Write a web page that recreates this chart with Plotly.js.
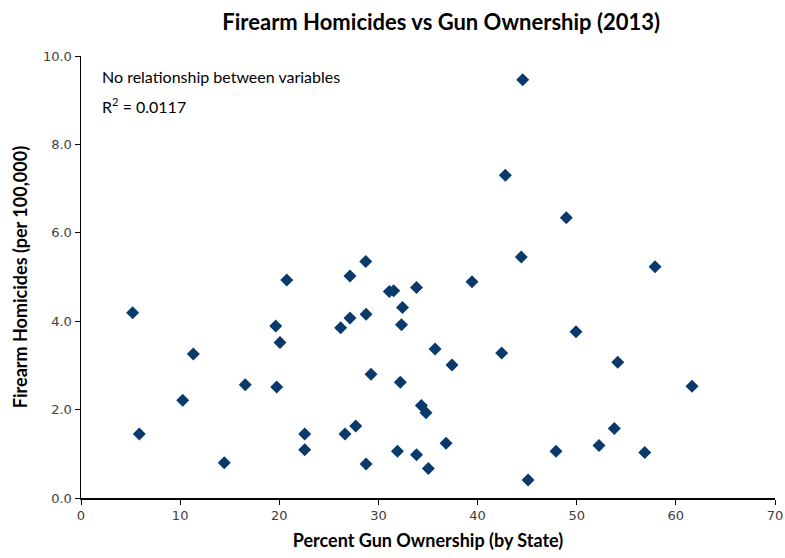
<!DOCTYPE html>
<html>
<head>
<meta charset="utf-8">
<script src="https://cdn.plot.ly/plotly-3.0.1.min.js"></script>
<style>html,body{margin:0;padding:0;background:#fff;}#chart{width:785px;height:558px;}</style>
</head>
<body>
<div id="chart"></div>
<script>
const gunOwnership = [5.21, 5.88, 10.26, 11.33, 14.45, 16.57, 19.64, 20.07, 19.74, 20.75,
  22.56, 22.56, 26.19, 26.63, 27.13, 27.13, 27.71, 28.75, 28.72, 28.75,
  29.25, 31.10, 31.54, 31.92, 32.33, 32.43, 32.21, 33.84, 33.84, 34.33,
  34.80, 35.03, 35.71, 36.82, 37.42, 39.44, 42.43, 42.80, 44.55, 44.41,
  45.09, 47.91, 48.95, 49.93, 52.25, 53.79, 54.14, 56.86, 57.90, 61.63];
const homicides = [4.19, 1.45, 2.21, 3.26, 0.80, 2.56, 3.89, 3.52, 2.51, 4.93,
  1.45, 1.09, 3.85, 1.45, 4.07, 5.02, 1.63, 4.16, 5.35, 0.77,
  2.80, 4.67, 4.69, 1.06, 3.92, 4.31, 2.62, 4.76, 0.98, 2.09,
  1.93, 0.67, 3.37, 1.24, 3.01, 4.89, 3.28, 7.30, 9.46, 5.45,
  0.41, 1.06, 6.34, 3.76, 1.19, 1.57, 3.07, 1.03, 5.23, 2.53];
const xTicks = [0, 10, 20, 30, 40, 50, 60, 70];
const yTicks = [0, 2, 4, 6, 8, 10];
const titleText = 'Firearm Homicides vs Gun Ownership (2013)';
const xTitle = 'Percent Gun Ownership (by State)';
const yTitle = 'Firearm Homicides (per 100,000)';
const note1 = 'No relationship between variables';
const note2 = 'R<sup>2</sup> = 0.0117';

const trace = {
  type: 'scatter', mode: 'markers',
  x: gunOwnership, y: homicides,
  marker: {symbol: 'diamond', size: 10, color: '#0a3a6b'},
  hoverinfo: 'x+y'
};
const axisCommon = {
  showgrid: false, zeroline: false, showline: true, linecolor: '#000', linewidth: 1.5,
  ticks: 'outside', ticklen: 5, tickcolor: '#000', tickwidth: 1,
  tickfont: {family: 'DejaVu Sans', size: 13, color: '#404040'}
};
const layout = {
  width: 785, height: 558,
  margin: {l: 81, r: 10, t: 56, b: 60},
  paper_bgcolor: '#fff', plot_bgcolor: '#fff',
  showlegend: false,
  title: {text: '<b>' + titleText + '</b>', xref: 'paper', x: 0.519, xanchor: 'center', y: 0.96, yanchor: 'middle',
    font: {family: 'Lato', size: 22, color: '#000'}},
  xaxis: Object.assign({}, axisCommon, {range: [0, 70], tickvals: xTicks,
    title: {text: '<b>' + xTitle + '</b>', font: {family: 'Lato', size: 18, color: '#000'}, standoff: 12}}),
  yaxis: Object.assign({}, axisCommon, {range: [0, 10], tickvals: yTicks, tickformat: '.1f',
    title: {text: '<b>' + yTitle + '</b>', font: {family: 'Lato', size: 18, color: '#000'}, standoff: 10}}),
  annotations: [
    {text: note1, xref: 'paper', yref: 'paper', x: 0.028, y: 0.954, xanchor: 'left', yanchor: 'middle',
     showarrow: false, font: {family: 'Lato', size: 16, color: '#000'}},
    {text: note2, xref: 'paper', yref: 'paper', x: 0.028, y: 0.888, xanchor: 'left', yanchor: 'middle',
     showarrow: false, font: {family: 'Lato', size: 16, color: '#000'}}
  ]
};
Plotly.newPlot('chart', [trace], layout, {displayModeBar: false, staticPlot: true});
</script>
</body>
</html>
